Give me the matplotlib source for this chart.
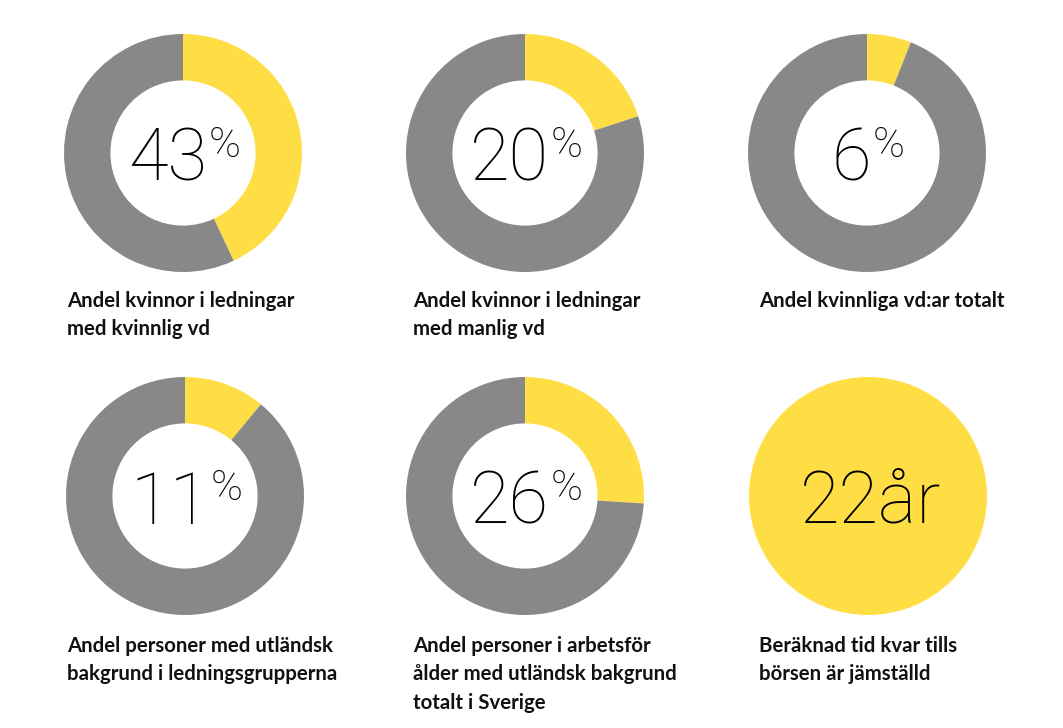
import matplotlib
matplotlib.use("Agg")
import matplotlib.pyplot as plt

# Dados do gráfico
valores = [43, 20, 6, 11, 26]          # andel i procent (gul del)
numeros = ["43", "20", "6", "11", "26"]
anos = "22år"
rotulos = [
    "Andel kvinnor i ledningar\nmed kvinnlig vd",
    "Andel kvinnor i ledningar\nmed manlig vd",
    "Andel kvinnliga vd:ar totalt",
    "Andel personer med utländsk\nbakgrund i ledningsgrupperna",
    "Andel personer i arbetsför\nålder med utländsk bakgrund\ntotalt i Sverige",
    "Beräknad tid kvar tills\nbörsen är jämställd",
]

amarelo = "#FEDE44"
cinza = "#888888"
W, H = 1063, 728
R = 119  # raio em pixels

# centros dos círculos (pixels, origem no topo)
centros = [(183, 153), (525, 153), (867, 153), (185, 496), (525, 496), (868, 496)]
rot_pos = [(67, 291), (413, 291), (759, 291), (67, 636), (413, 636), (759, 636)]

fig = plt.figure(figsize=(W / 100, H / 100), dpi=100)

def eixo(cx, cy):
    ax = fig.add_axes([(cx - R) / W, 1 - (cy + R) / H, 2 * R / W, 2 * R / H])
    return ax

fonte_num = dict(family="Roboto", weight="light", color="black")

# 1. Donuts com porcentagem
for i, v in enumerate(valores):
    ax = eixo(*centros[i])
    ax.pie([v, 100 - v], colors=[amarelo, cinza], startangle=90, counterclock=False,
           wedgeprops=dict(width=0.39, linewidth=0))
    ax.set_xlim(-1, 1)
    ax.set_ylim(-1, 1)
    t = ax.text(-0.13, -0.235, numeros[i], ha="center", va="baseline", fontsize=52, **fonte_num)
    ax.annotate("%", xy=(1, -0.03), xycoords=(t, "data"), xytext=(1, 0), textcoords="offset points",
                ha="left", va="baseline", fontsize=31, **fonte_num)

# 2. Círculo cheio com anos
ax = eixo(*centros[5])
ax.pie([1], colors=[amarelo], wedgeprops=dict(linewidth=0))
ax.set_xlim(-1, 1)
ax.set_ylim(-1, 1)
ax.text(0.02, -0.22, anos, ha="center", va="baseline", fontsize=52, **fonte_num)

# 3. Rótulos
for (x, y), r in zip(rot_pos, rotulos):
    fig.text(x / W, 1 - y / H, r, ha="left", va="top", fontsize=14.7, family="Lato",
             weight="bold", color="#111111", linespacing=1.52)

fig.savefig("out.png", dpi=100, facecolor="white")
